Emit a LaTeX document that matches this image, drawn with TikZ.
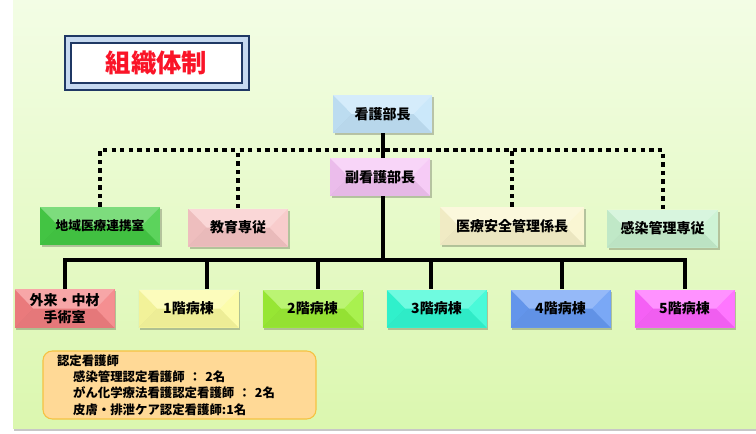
\documentclass[tikz,border=0pt]{standalone}
\usepackage{fontspec}
\setmainfont{Noto Sans CJK JP}
\usetikzlibrary{
    positioning,
    calc,
    backgrounds,
    shadows,
}

\definecolor{bgtop}{RGB}{243,253,229}
\definecolor{bgbot}{RGB}{219,247,175}
\definecolor{navy}{RGB}{31,56,100}
\definecolor{titlebg}{RGB}{198,217,240}
\definecolor{titlered}{RGB}{250,20,40}
\definecolor{headblue}{RGB}{196,229,250}
\definecolor{subpink}{RGB}{245,196,245}
\definecolor{linkgreen}{RGB}{70,205,70}
\definecolor{edupink}{RGB}{248,198,198}
\definecolor{safecream}{RGB}{250,245,205}
\definecolor{infmint}{RGB}{200,242,208}
\definecolor{outred}{RGB}{244,128,130}
\definecolor{wardA}{RGB}{252,252,160}
\definecolor{wardB}{RGB}{158,240,55}
\definecolor{wardC}{RGB}{50,250,212}
\definecolor{wardD}{RGB}{104,156,245}
\definecolor{wardE}{RGB}{255,100,255}
\definecolor{legfill}{RGB}{255,217,150}
\definecolor{legline}{RGB}{245,194,66}

\tikzset{
    bevel/.style={path picture={
        \fill[white, opacity=0.3] (path picture bounding box.north west) -- (path picture bounding box.north east)
            -- ([xshift=-14pt]path picture bounding box.east) -- ([xshift=14pt]path picture bounding box.west) -- cycle;
        \fill[white, opacity=0.12] (path picture bounding box.north east) -- (path picture bounding box.south east)
            -- ([xshift=-14pt]path picture bounding box.east) -- cycle;
        \fill[black, opacity=0.06] (path picture bounding box.south west) -- (path picture bounding box.south east)
            -- ([xshift=-14pt]path picture bounding box.east) -- ([xshift=14pt]path picture bounding box.west) -- cycle;
        \fill[black, opacity=0.04] (path picture bounding box.north west) -- (path picture bounding box.south west)
            -- ([xshift=14pt]path picture bounding box.west) -- cycle;
    }},
}

\begin{document}
\begin{tikzpicture}[
    x=0.75pt, y=-0.75pt,
    node distance=17.6pt,
    post/.style={bevel, minimum width=75pt, minimum height=28.5pt, inner sep=1pt, align=center,
        font=\bfseries\fontsize{10.5}{13}\selectfont,
        drop shadow={shadow xshift=1.2pt, shadow yshift=-1.6pt, fill=black, opacity=0.22}},
    trunk/.style={line width=3pt},
    dotline/.style={line width=3pt, dash pattern=on 3.3pt off 3.1pt},
    legend/.style={draw=legline, fill=legfill, rounded corners=7pt, line width=0.8pt,
        minimum width=204.75pt, minimum height=51pt, text width=183.75pt, align=left, inner ysep=1pt,
        font=\bfseries\fontsize{9.3}{12.2}\selectfont},
]

\useasboundingbox (0,0) rectangle (756,433);
\begin{scope}[on background layer]
\fill[white] (0,0) rectangle (756,433);
\fill[black!22] (14,427) rectangle (756,430.5);
\shade[top color=bgtop, bottom color=bgbot] (13,0) rectangle (756,428);
\end{scope}

% title
\node[draw=navy, fill=titlebg, line width=1pt, minimum width=138pt, minimum height=40.5pt] (titlebox) at (157,63) {};
\node[draw=navy, fill=white, line width=1pt, minimum width=128.25pt, minimum height=30pt,
    text=titlered, font=\bfseries\fontsize{19}{22}\selectfont] (title) at (156.5,63) {組織体制};

% management
\node[post, fill=headblue, minimum width=74.25pt] (chief) at (382.5,114) {看護部長};
\node[post, fill=subpink] (deputy) at (380,177) {副看護部長};

\node[post, fill=linkgreen, minimum width=90pt, font=\bfseries\fontsize{9.5}{12}\selectfont] (link) at (100,226) {地域医療連携室};
\node[post, fill=edupink] (edu) at (238,227.5) {教育専従};
\node[post, fill=safecream, minimum width=108pt] (safe) at (512,226) {医療安全管理係長};
\node[post, fill=infmint, minimum width=83.25pt] (inf) at (662.5,228.5) {感染管理専従};

% wards
\node[post, fill=outred, minimum height=29.25pt] (out) at (64.5,308.5) {外来・中材\\手術室};
\node[post, fill=wardA] (w1) [right=of out] {1階病棟};
\node[post, fill=wardB] (w2) [right=of w1] {2階病棟};
\node[post, fill=wardC] (w3) [right=of w2] {3階病棟};
\node[post, fill=wardD] (w4) [right=of w3] {4階病棟};
\node[post, fill=wardE] (w5) [right=of w4] {5階病棟};

\coordinate (bus) at (381,260);
\coordinate (dotbus) at (381,150);

\begin{scope}[on background layer]
\draw[trunk] (chief) -- (chief |- bus);
\draw[trunk] (out.north) |- (bus) -| (w5.north);
\draw[trunk] ($(w1.north)+(18.5,0)$) |- (bus);
\draw[trunk] ($(w2.north)+(5,0)$) |- (bus);
\draw[trunk] ($(w3.north)+(-5.5,0)$) |- (bus);
\draw[trunk] ($(w4.north)+(1,0)$) |- (bus);

\draw[dotline] (link.north) |- (dotbus) -| (inf.north);
\draw[dotline] (edu.north) |- (dotbus);
\draw[dotline] (safe.north) |- (dotbus);
\end{scope}

% certified nurses
\node[legend] (cert) at (179.5,385) {認定看護師\\
\hspace*{1.3em}感染管理認定看護師 ： 2名\\
\hspace*{1.3em}がん化学療法看護認定看護師 ： 2名\\
\hspace*{1.3em}皮膚・排泄ケア認定看護師:1名};

\end{tikzpicture}
\end{document}
